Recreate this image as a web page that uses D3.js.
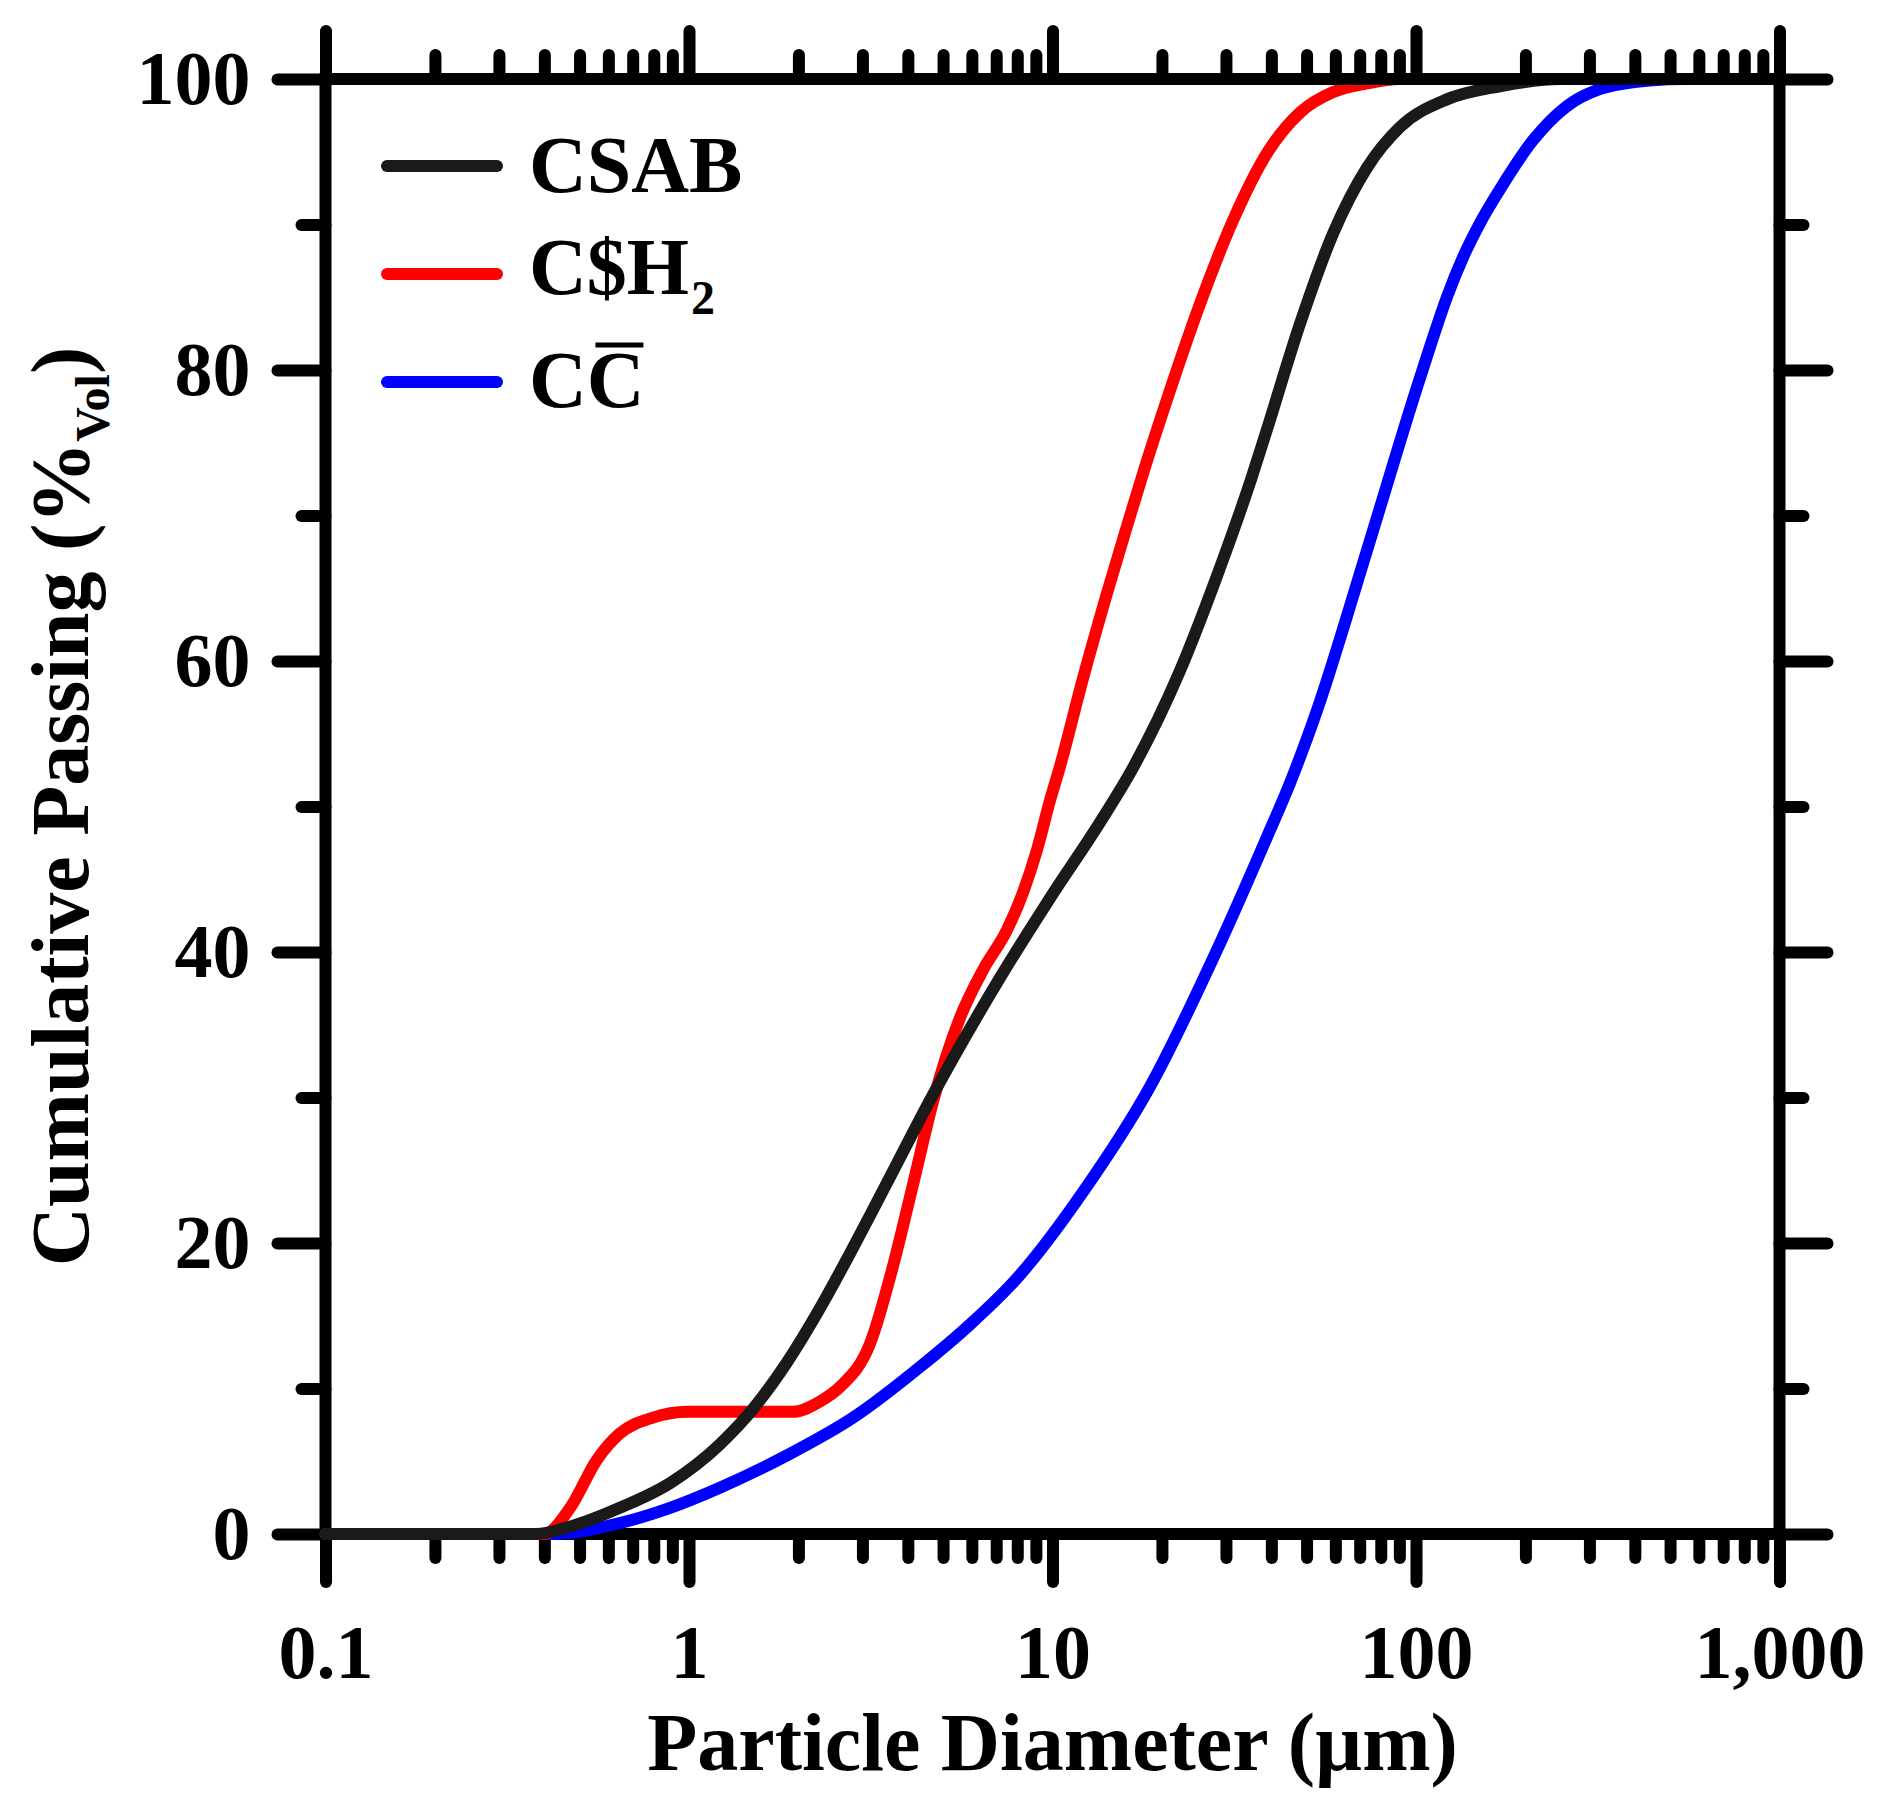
<!DOCTYPE html>
<html>
<head>
<meta charset="utf-8">
<script src="https://cdn.jsdelivr.net/npm/d3@7"></script>
<style>
body{margin:0;background:#fff}
</style>
</head>
<body>
<svg id="board" width="1888" height="1806"></svg>
<script>
// particle diameter (um) vs cumulative passing (% vol)
csab_d = [0.1, 0.38, 0.47, 0.645, 0.887, 1.22, 1.5, 1.86, 2.29, 2.83, 3.5, 4.6, 7.16, 9.84, 13.5, 16.6, 22.4, 28.3, 35.3, 39, 48, 59.2, 73.3, 90.4, 121.6, 170, 250, 1000]
csab_p = [0, 0, 0.5, 1.8, 3.5, 6.2, 8.6, 11.8, 15.5, 19.7, 24.1, 29.8, 38.2, 43.7, 48.9, 52.6, 59.3, 65.8, 72.6, 76.0, 83.2, 89.4, 93.9, 96.7, 98.6, 99.5, 100, 100]

csh2_d = [0.1, 0.40, 0.471, 0.558, 0.645, 0.796, 0.986, 1.93, 2.29, 2.6, 3.15, 3.64, 4.14, 4.7, 5.57, 6.45, 7.49, 8.3, 9.06, 9.84, 10.5, 12.1, 14.1, 16.0, 17.9, 20.6, 25.5, 31.4, 38.9, 48, 59.2, 73.3, 90, 1000]
csh2_p = [0, 0, 1.8, 5.1, 6.9, 8.0, 8.4, 8.4, 9.1, 10.1, 13.1, 18.4, 24.1, 29.8, 35.5, 38.8, 41.5, 44.1, 47.0, 50.4, 52.8, 58.7, 64.6, 69.2, 73.2, 77.9, 84.6, 90.3, 94.9, 97.7, 99.1, 99.7, 100, 100]

cc_d = [0.1, 0.42, 0.645, 0.887, 1.22, 1.86, 2.83, 4.33, 5.93, 8, 12.2, 18.5, 28.3, 38.9, 45, 53.4, 73.3, 100, 109, 121.6, 135, 150, 170, 210, 259, 320, 440, 550, 1000]
cc_p = [0, 0, 0.75, 1.8, 3.2, 5.4, 8.0, 11.5, 14.4, 17.6, 23.6, 30.7, 40.1, 47.9, 51.6, 56.6, 67.6, 78.6, 81.5, 85.0, 87.8, 90.1, 92.4, 95.8, 98.1, 99.3, 99.9, 100, 100]

series_names = ['CSAB', 'C$H', 'CC']
series_colors = ['#1a1a1a', '#ff0000', '#0000ff']

x_ticks = [0.1, 1, 10, 100, 1000]
y_ticks = [0, 20, 40, 60, 80, 100]
y_minor = [10, 30, 50, 70, 90]

x_title = 'Particle Diameter (\u00b5m)'
y_title = 'Cumulative Passing (%'
y_title_sub = 'Vol'

font = '"Liberation Serif", "Times New Roman", serif'

board = d3.select('#board')

x = d3.scaleLog().domain([0.1, 1000]).range([325.5, 1779.5])
y = d3.scaleLinear().domain([0, 100]).range([1534, 79])

// minor ticks 2..9 in each decade
x_minor = []
for(i=0;i<x_ticks.length-1;i++){
    for(k=2;k<10;k++){
        x_minor.push(x_ticks[i]*k)
    }
}

function style_axis(g){
    g.select('.domain').remove()
    g.attr('font-family', font).attr('font-size', 76).attr('font-weight', 'bold')
    g.selectAll('line')
        .attr('stroke', '#000')
        .attr('stroke-width', 12)
        .attr('stroke-linecap', 'round')
    g.selectAll('text').attr('fill', '#000')
}

axes = board.append('g')

// bottom
axes.append('g').attr('transform', 'translate(0,' + y(0) + ')')
    .call(d3.axisBottom(x).tickValues(x_minor).tickSize(24).tickFormat(''))
    .call(style_axis)
axes.append('g').attr('transform', 'translate(0,' + y(0) + ')')
    .call(d3.axisBottom(x).tickValues(x_ticks).tickSize(48).tickPadding(42).tickFormat(d3.format(',')))
    .call(style_axis)
// top
axes.append('g').attr('transform', 'translate(0,' + y(100) + ')')
    .call(d3.axisTop(x).tickValues(x_minor).tickSize(24).tickFormat(''))
    .call(style_axis)
axes.append('g').attr('transform', 'translate(0,' + y(100) + ')')
    .call(d3.axisTop(x).tickValues(x_ticks).tickSize(48).tickFormat(''))
    .call(style_axis)
// left
axes.append('g').attr('transform', 'translate(' + x(0.1) + ',0)')
    .call(d3.axisLeft(y).tickValues(y_minor).tickSize(24).tickFormat(''))
    .call(style_axis)
axes.append('g').attr('transform', 'translate(' + x(0.1) + ',0)')
    .call(d3.axisLeft(y).tickValues(y_ticks).tickSize(48).tickPadding(27))
    .call(style_axis)
// right
axes.append('g').attr('transform', 'translate(' + x(1000) + ',0)')
    .call(d3.axisRight(y).tickValues(y_minor).tickSize(24).tickFormat(''))
    .call(style_axis)
axes.append('g').attr('transform', 'translate(' + x(1000) + ',0)')
    .call(d3.axisRight(y).tickValues(y_ticks).tickSize(48).tickFormat(''))
    .call(style_axis)

axes.append('rect')
    .attr('x', x(0.1)).attr('y', y(100))
    .attr('width', x(1000) - x(0.1)).attr('height', y(0) - y(100))
    .attr('fill', 'none').attr('stroke', '#000').attr('stroke-width', 12)

// curves, clipped so they slide under the top frame line
board.append('clipPath').attr('id', 'clip')
    .append('rect')
    .attr('x', x(0.1) - 7).attr('y', y(100) + 6)
    .attr('width', x(1000) - x(0.1) + 14).attr('height', y(0) - y(100) + 6)

line = d3.line()
    .x(d => x(d[0]))
    .y(d => y(d[1]))
    .curve(d3.curveMonotoneX)

all_d = [csab_d, csh2_d, cc_d]
all_p = [csab_p, csh2_p, cc_p]

curves = board.append('g').attr('clip-path', 'url(#clip)')
// blue first, black last (black sits on top in the original)
;[2, 1, 0].forEach(function(s){
    pts = all_d[s].map((d, i) => [d, all_p[s][i]])
    curves.append('path')
        .attr('d', line(pts))
        .attr('fill', 'none')
        .attr('stroke', series_colors[s])
        .attr('stroke-width', 12)
        .attr('stroke-linecap', 'round')
        .attr('stroke-linejoin', 'round')
})

// legend
legend = board.append('g')
    .attr('font-family', font).attr('font-weight', 'bold').attr('font-size', 80)
base_off = [26, 20, 25]
series_names.forEach(function(name, idx){
    ly = 166 + idx*108
    legend.append('line')
        .attr('x1', 387).attr('x2', 497)
        .attr('y1', ly).attr('y2', ly)
        .attr('stroke', series_colors[idx])
        .attr('stroke-width', 12)
        .attr('stroke-linecap', 'round')
    t = legend.append('text')
        .attr('x', 529).attr('y', ly + base_off[idx])
        .attr('fill', '#000')
    if(idx === 1){
        t.text(name)
        t.append('tspan').attr('font-size', 48).attr('dy', 20).attr('dx', 2).text('2')
    } else if(idx === 2){
        t.append('tspan').text('C')
        second = t.append('tspan').text('C')
        w1 = t.select('tspan').node().getComputedTextLength()
        w2 = second.node().getComputedTextLength()
        legend.append('line')
            .attr('x1', 529 + w1 + w2*0.15).attr('x2', 529 + w1 + w2*0.98)
            .attr('y1', ly - 37).attr('y2', ly - 37)
            .attr('stroke', '#000').attr('stroke-width', 5)
    } else {
        t.text(name)
    }
})

// axis titles
board.append('text')
    .attr('x', (x(0.1) + x(1000))/2).attr('y', 1770)
    .attr('text-anchor', 'middle')
    .attr('font-family', font).attr('font-weight', 'bold').attr('font-size', 82)
    .text(x_title)

yt = board.append('text')
    .attr('transform', 'translate(88,' + (y(0) + y(100))/2 + ') rotate(-90)')
    .attr('text-anchor', 'middle')
    .attr('font-family', font).attr('font-weight', 'bold').attr('font-size', 82)
yt.append('tspan').text(y_title)
yt.append('tspan').attr('font-size', 48).attr('dy', 21).text(y_title_sub)
yt.append('tspan').attr('dy', -21).text(')')
</script>
</body>
</html>
